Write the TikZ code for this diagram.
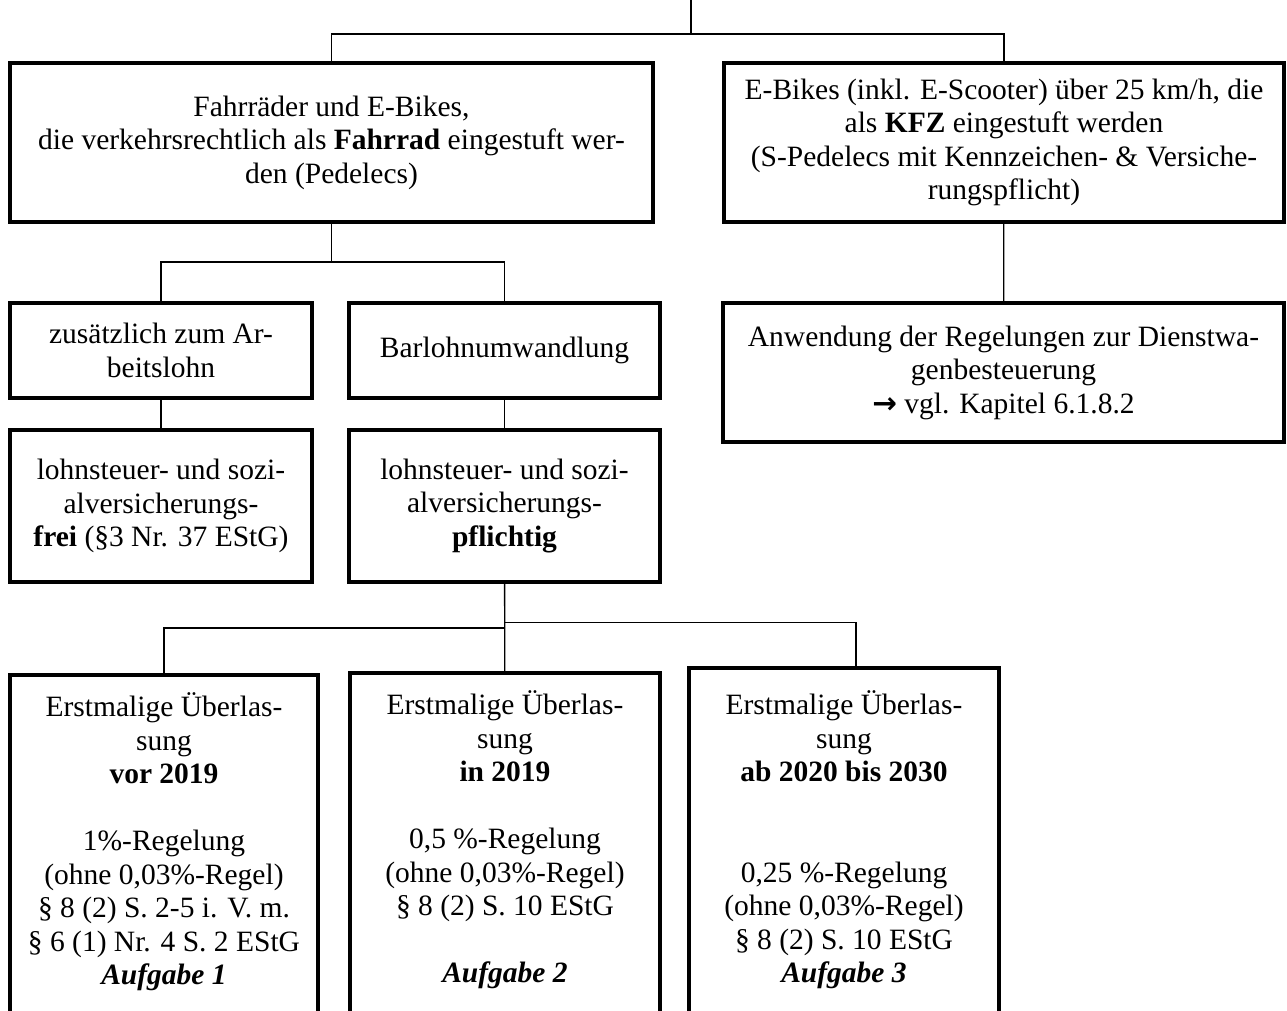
\documentclass[tikz,border=0pt]{standalone}
\usepackage{fontspec}
\setmainfont{Liberation Serif}
\newfontfamily\arrowfont{DejaVu Sans}
\usepackage{tikz}

\begin{document}
\begin{tikzpicture}[x=1pt, y=-1pt, every node/.style={font=\fontsize{29.5}{33.5}\selectfont}, box/.style={draw,line width=4pt,inner sep=0pt,align=center}, txt/.style={inner sep=0pt,align=center}, conn/.style={line width=1.3pt}]
\useasboundingbox (0,0) rectangle (1287,1011);
\clip (0,0) rectangle (1287,1011);
\node[box,minimum width=643pt,minimum height=159pt] (a) at (331.5,142.5) {Fahrräder und E-Bikes,\\ die verkehrsrechtlich als \textbf{Fahrrad} eingestuft wer-\\ den (Pedelecs)};
\node[box,minimum width=560pt,minimum height=159pt] (b) at (1004,142.5) {E-Bikes (inkl. E-Scooter) über 25 km/h, die\\ als \textbf{KFZ} eingestuft werden\\ (S-Pedelecs mit Kennzeichen- \& Versiche-\\ rungspflicht)};
\node[box,minimum width=302pt,minimum height=95pt] (c) at (161,350.5) {zusätzlich zum Ar-\\ beitslohn};
\node[box,minimum width=311pt,minimum height=95pt] (d) at (504.5,350.5) {Barlohnumwandlung};
\node[box,minimum width=302pt,minimum height=152pt] (e) at (161,506) {lohnsteuer- und sozi-\\ alversicherungs-\\ \textbf{frei} (§3 Nr. 37 EStG)};
\node[box,minimum width=311pt,minimum height=152pt] (f) at (504.5,506) {lohnsteuer- und sozi-\\ alversicherungs-\\ \textbf{pflichtig}};
\node[box,minimum width=561pt,minimum height=139pt] (h) at (1003.5,372.5) {Anwendung der Regelungen zur Dienstwa-\\ genbesteuerung\\ {\arrowfont\bfseries →} vgl. Kapitel 6.1.8.2};
% untere Reihe, unten abgeschnitten
\node[box,minimum width=308pt,minimum height=365pt] (g1) at (164,857.5) {};
\node[box,minimum width=310pt,minimum height=367pt] (g2) at (505,856.5) {};
\node[box,minimum width=310pt,minimum height=372pt] (g3) at (844,854) {};
\node[txt] (g1t) at (164,842) {Erstmalige Überlas-\\ sung\\ \textbf{vor 2019}\\[33.5pt] 1\%-Regelung\\ (ohne 0,03\%-Regel)\\ § 8 (2) S. 2-5 i. V. m.\\ § 6 (1) Nr. 4 S. 2 EStG\\ \textbf{\textit{Aufgabe 1}}};
\node[txt] (g2t) at (505,840) {Erstmalige Überlas-\\ sung\\ \textbf{in 2019}\\[33.5pt] 0,5 \%-Regelung\\ (ohne 0,03\%-Regel)\\ § 8 (2) S. 10 EStG\\[33.5pt] \textbf{\textit{Aufgabe 2}}};
\node[txt] (g3t) at (844,840) {Erstmalige Überlas-\\ sung\\ \textbf{ab 2020 bis 2030}\\[67pt] 0,25 \%-Regelung\\ (ohne 0,03\%-Regel)\\ § 8 (2) S. 10 EStG\\ \textbf{\textit{Aufgabe 3}}};
% Verbindungen
\coordinate (top) at (691,0);
\coordinate (j1) at (691,34);
\coordinate (j2) at (331.5,262);
\coordinate (jl) at (504.5,628);
\coordinate (jr) at (504.5,622.5);
\draw[conn] (top) -- (j1);
\draw[conn] (a.north) |- (j1) -| (b.north);
\draw[conn] (a.south) -- (j2);
\draw[conn] (c.north) |- (j2) -| (d.north);
\foreach \x/\y in {c/e,d/f,b/h,f/g2}{\draw[conn] (\x)--(\y);}
\draw[conn] (g1.north) |- (jl);
\draw[conn] (jr) -| ([xshift=12pt]g3.north);
\end{tikzpicture}
\end{document}
